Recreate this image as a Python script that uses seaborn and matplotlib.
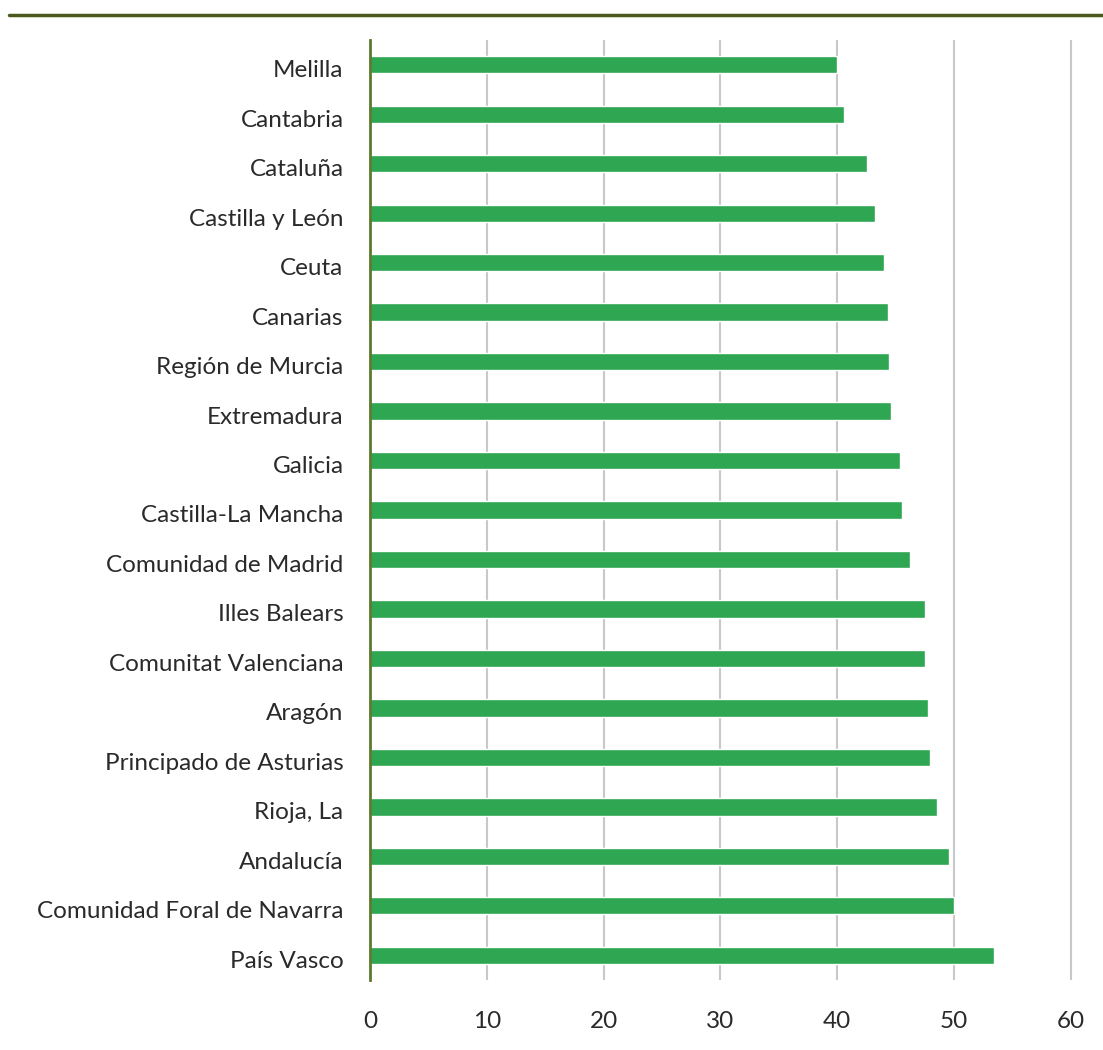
import matplotlib
matplotlib.use("Agg")
import matplotlib.pyplot as plt
from matplotlib.lines import Line2D
import matplotlib.transforms as mtransforms
import seaborn as sns
import pandas as pd

regions = [
    "Melilla", "Cantabria", "Cataluña", "Castilla y León", "Ceuta", "Canarias",
    "Región de Murcia", "Extremadura", "Galicia", "Castilla-La Mancha",
    "Comunidad de Madrid", "Illes Balears", "Comunitat Valenciana", "Aragón",
    "Principado de Asturias", "Rioja, La", "Andalucía",
    "Comunidad Foral de Navarra", "País Vasco",
]
values = [
    40.0, 40.6, 42.5, 43.2, 44.0, 44.3, 44.45, 44.6, 45.4, 45.5,
    46.2, 47.5, 47.5, 47.8, 47.9, 48.5, 49.6, 50.0, 53.4,
]
xticks = [0, 10, 20, 30, 40, 50, 60]

df = pd.DataFrame({"region": regions, "value": values})

sns.set_theme(style="white")
plt.rcParams["font.family"] = ["Lato", "DejaVu Sans"]

fig = plt.figure(figsize=(11.03, 10.5), dpi=100)
ax = fig.add_axes([370 / 1103, 1 - 980 / 1050, (61 * 11.683) / 1103, 940 / 1050])

sns.barplot(data=df, x="value", y="region", orient="h", color="#2ea652",
            saturation=1, width=0.35, ax=ax, zorder=3)

ax.set_xlim(0, 61)
ax.set_ylim(len(regions) - 0.5, -0.5)
ax.set_xticks(xticks)
ax.set_xticklabels([str(t) for t in xticks])
ax.grid(axis="x", color="#c8c8c8", linewidth=1.5, zorder=0)
ax.set_axisbelow(True)
for s in ["top", "right", "bottom"]:
    ax.spines[s].set_visible(False)
ax.spines["left"].set_color("#5b7a2b")
ax.spines["left"].set_linewidth(2)
ax.spines["left"].set_zorder(5)
ax.tick_params(axis="both", length=0, labelsize=17.5, labelcolor="#2a2a2a")
ax.tick_params(axis="x", pad=22)
ax.tick_params(axis="y", pad=19)
offset = mtransforms.ScaledTranslation(0, -4 / 100, fig.dpi_scale_trans)
for lab in ax.get_yticklabels():
    lab.set_transform(lab.get_transform() + offset)
ax.set_xlabel("")
ax.set_ylabel("")

fig.add_artist(Line2D([9 / 1103, 1.0], [1 - 14.5 / 1050, 1 - 14.5 / 1050],
                      color="#4a5a1e", linewidth=2.5, transform=fig.transFigure))

fig.savefig("out.png", dpi=100)
